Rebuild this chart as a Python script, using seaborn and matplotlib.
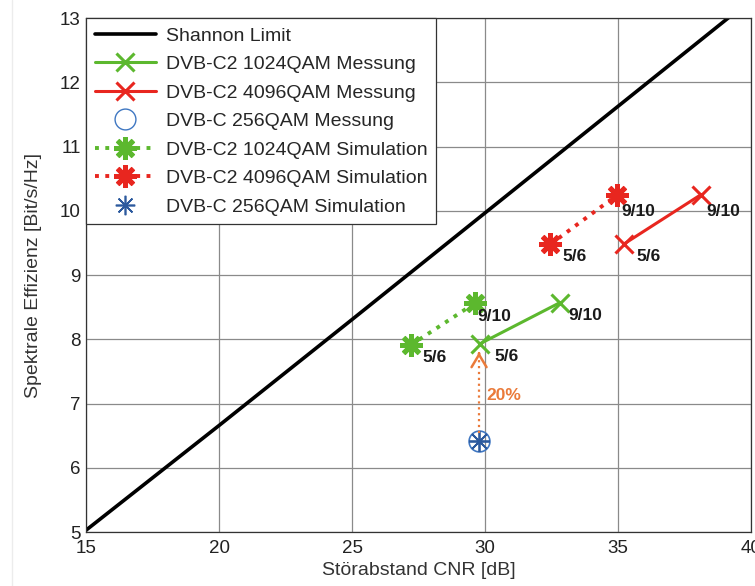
import matplotlib
matplotlib.use("Agg")
import matplotlib.pyplot as plt
import seaborn as sns
import pandas as pd
from matplotlib.lines import Line2D

# ---- data ----
shannon_cnr = [15, 20, 25, 30, 35, 40]
shannon_eff = [5.03, 6.66, 8.31, 9.97, 11.63, 13.29]

c2_1024_mess_cnr = [29.8, 32.8]
c2_1024_mess_eff = [7.93, 8.57]
c2_4096_mess_cnr = [35.2, 38.1]
c2_4096_mess_eff = [9.48, 10.25]
c_256_mess_cnr = [29.77]
c_256_mess_eff = [6.42]
c2_1024_sim_cnr = [27.2, 29.6]
c2_1024_sim_eff = [7.91, 8.56]
c2_4096_sim_cnr = [32.45, 34.97]
c2_4096_sim_eff = [9.48, 10.25]
c_256_sim_cnr = [29.77]
c_256_sim_eff = [6.42]

gain_tip_eff = 7.80
code_rates = ["5/6", "9/10"]
gain_label = "20%"

series_labels = ["Shannon Limit", "DVB-C2 1024QAM Messung", "DVB-C2 4096QAM Messung",
                 "DVB-C 256QAM Messung", "DVB-C2 1024QAM Simulation",
                 "DVB-C2 4096QAM Simulation", "DVB-C 256QAM Simulation"]

x_ticks = [15, 20, 25, 30, 35, 40]
y_ticks = [5, 6, 7, 8, 9, 10, 11, 12, 13]

# ---- style ----
sns.set_theme(style="white")
plt.rcParams['font.family'] = ['Liberation Sans', 'DejaVu Sans']

GREEN = '#5cb82e'
RED = '#e8261f'
BLUE = '#3f77c2'
DBLUE = '#2d5a9e'
ORANGE = '#ea7a3a'
AST = (8, 2, 0)

MESS = dict(lw=2.2, marker='x', markersize=13, markeredgewidth=2.2)
SIM = dict(lw=2.8, linestyle=':', marker=AST, markersize=16, markeredgewidth=3.6)

fig = plt.figure(figsize=(7.55, 5.86), dpi=100)
ax = fig.add_axes([0.114, 0.092, 0.881, 0.877])

# faint scan border on the left
fig.add_artist(Line2D([0.016, 0.016], [0, 1], transform=fig.transFigure, color='#ececec', lw=1))

def draw(xs, ys, color, **kw):
    df = pd.DataFrame({"x": xs, "y": ys})
    sns.lineplot(data=df, x="x", y="y", ax=ax, sort=False, estimator=None,
                 color=color, markeredgecolor=color, markerfacecolor=color, **kw)

draw(shannon_cnr, shannon_eff, 'black', lw=2.6)
draw(c2_1024_mess_cnr, c2_1024_mess_eff, GREEN, **MESS)
draw(c2_4096_mess_cnr, c2_4096_mess_eff, RED, **MESS)
draw(c2_1024_sim_cnr, c2_1024_sim_eff, GREEN, **SIM)
draw(c2_4096_sim_cnr, c2_4096_sim_eff, RED, **SIM)

# DVB-C points
ax.plot(c_256_mess_cnr, c_256_mess_eff, linestyle='none', marker='o', markersize=15,
        markerfacecolor='none', markeredgecolor=BLUE, markeredgewidth=1.2)
ax.plot(c_256_sim_cnr, c_256_sim_eff, linestyle='none', marker=AST, markersize=15,
        color=DBLUE, markeredgewidth=1.3)

# arrow 20% : dotted shaft + open chevron head
gx = c_256_mess_cnr[0]
ax.plot([gx, gx], [c_256_mess_eff[0] + 0.12, gain_tip_eff - 0.02], color=ORANGE, lw=1.6,
        linestyle=':')
ax.annotate("", xy=(gx, gain_tip_eff), xytext=(gx, gain_tip_eff - 0.02),
            arrowprops=dict(arrowstyle='->,head_length=0.75,head_width=0.45', color=ORANGE,
                            lw=1.8, shrinkA=0, shrinkB=0))
ax.text(30.05, 7.13, gain_label, color=ORANGE, fontsize=12.5, fontweight='bold', va='center', ha='left')

# code rate labels
def lab(xs, ys, off56, off910):
    ax.annotate(code_rates[0], (xs[0], ys[0]), xytext=off56, textcoords='offset pixels',
                fontsize=12.5, fontweight='bold', va='center', ha='left', color='#1a1a1a')
    ax.annotate(code_rates[1], (xs[1], ys[1]), xytext=off910, textcoords='offset pixels',
                fontsize=12.5, fontweight='bold', va='center', ha='left', color='#1a1a1a')

lab(c2_1024_sim_cnr, c2_1024_sim_eff, (12, -12), (3, -13))
lab(c2_1024_mess_cnr, c2_1024_mess_eff, (15, -13), (9, -13))
lab(c2_4096_sim_cnr, c2_4096_sim_eff, (12, -12), (4, -17))
lab(c2_4096_mess_cnr, c2_4096_mess_eff, (13, -12), (6, -17))

ax.set_xlim(15, 40)
ax.set_ylim(5, 13)
ax.set_xticks(x_ticks)
ax.set_yticks(y_ticks)
ax.grid(True, color='#8a8a8a', lw=0.9)
ax.tick_params(direction='in', length=4, labelsize=13.5, colors='#222222')
ax.tick_params(axis='x', pad=6)
ax.tick_params(axis='y', pad=4)
for s in ax.spines.values():
    s.set_color('#333333')
    s.set_linewidth(0.9)
ax.set_xlabel("Störabstand CNR [dB]", fontsize=14, color='#333333', labelpad=3)
ax.set_ylabel("Spektrale Effizienz [Bit/s/Hz]", fontsize=14, color='#333333')
ax.yaxis.set_label_coords(-0.066, 0.5)

handles = [
    Line2D([], [], color='black', lw=2.6),
    Line2D([], [], color=GREEN, **MESS),
    Line2D([], [], color=RED, **MESS),
    Line2D([], [], linestyle='none', marker='o', markersize=15, markerfacecolor='none',
           markeredgecolor=BLUE, markeredgewidth=1.0),
    Line2D([], [], color=GREEN, **SIM),
    Line2D([], [], color=RED, **SIM),
    Line2D([], [], linestyle='none', marker=AST, markersize=14, color=DBLUE, markeredgewidth=1.2),
]
leg = ax.legend(handles, series_labels, loc='upper left', bbox_to_anchor=(0, 1),
                fontsize=14, handlelength=3.15, handletextpad=0.5, labelspacing=0.56,
                borderpad=0.45, borderaxespad=0, frameon=True, fancybox=False, framealpha=1)
leg.get_frame().set_edgecolor('#333333')
leg.get_frame().set_linewidth(0.9)

fig.savefig("out.png", dpi=100, facecolor='white')
